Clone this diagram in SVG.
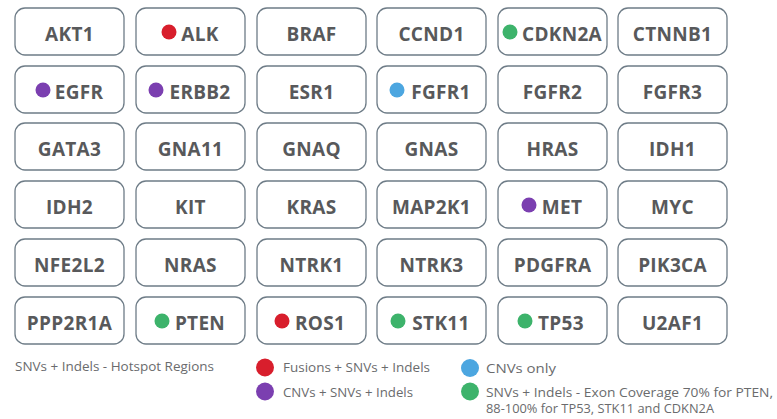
<svg xmlns="http://www.w3.org/2000/svg" width="777" height="419" viewBox="0 0 777 419">
<style>
.box{fill:#ffffff;stroke:#6e7c87;stroke-width:1.3}
.lbl{font-family:"Open Sans","Liberation Sans",sans-serif;font-weight:700;font-size:19px;fill:#58595b;text-anchor:middle;letter-spacing:0.3px}
.leg{font-family:"Open Sans","Liberation Sans",sans-serif;font-size:13.5px;fill:#6a6b6d}
.red{fill:#d81e2c}.pur{fill:#7b3fb0}.blu{fill:#4ca6e0}.grn{fill:#3db36b}
</style>
<rect width="777" height="419" fill="#ffffff"/>
<g id="connectors"/>
<!-- Row 1 -->
<g id="AKT1"><rect class="box" x="15" y="8" width="109" height="47" rx="10"/><text class="lbl" x="69.5" y="41">AKT1</text></g>
<g id="ALK"><rect class="box" x="136" y="8" width="109" height="47" rx="10"/><circle class="red" cx="169" cy="32" r="7.5"/><text class="lbl" x="200" y="41">ALK</text></g>
<g id="BRAF"><rect class="box" x="257" y="8" width="109" height="47" rx="10"/><text class="lbl" x="311.5" y="41">BRAF</text></g>
<g id="CCND1"><rect class="box" x="377" y="8" width="109" height="47" rx="10"/><text class="lbl" x="431.5" y="41">CCND1</text></g>
<g id="CDKN2A"><rect class="box" x="498" y="8" width="109" height="47" rx="10"/><circle class="grn" cx="510" cy="32" r="7.5"/><text class="lbl" x="562" y="41">CDKN2A</text></g>
<g id="CTNNB1"><rect class="box" x="618" y="8" width="109" height="47" rx="10"/><text class="lbl" x="672.5" y="41">CTNNB1</text></g>
<!-- Row 2 -->
<g id="EGFR"><rect class="box" x="15" y="66" width="109" height="47" rx="10"/><circle class="pur" cx="43" cy="90" r="7.5"/><text class="lbl" x="79" y="99">EGFR</text></g>
<g id="ERBB2"><rect class="box" x="136" y="66" width="109" height="47" rx="10"/><circle class="pur" cx="156" cy="90" r="7.5"/><text class="lbl" x="200" y="99">ERBB2</text></g>
<g id="ESR1"><rect class="box" x="257" y="66" width="109" height="47" rx="10"/><text class="lbl" x="311.5" y="99">ESR1</text></g>
<g id="FGFR1"><rect class="box" x="377" y="66" width="109" height="47" rx="10"/><circle class="blu" cx="397" cy="90" r="7.5"/><text class="lbl" x="441" y="99">FGFR1</text></g>
<g id="FGFR2"><rect class="box" x="498" y="66" width="109" height="47" rx="10"/><text class="lbl" x="552.5" y="99">FGFR2</text></g>
<g id="FGFR3"><rect class="box" x="618" y="66" width="109" height="47" rx="10"/><text class="lbl" x="672.5" y="99">FGFR3</text></g>
<!-- Row 3 -->
<g id="GATA3"><rect class="box" x="15" y="123" width="109" height="47" rx="10"/><text class="lbl" x="69.5" y="156">GATA3</text></g>
<g id="GNA11"><rect class="box" x="136" y="123" width="109" height="47" rx="10"/><text class="lbl" x="190.5" y="156">GNA11</text></g>
<g id="GNAQ"><rect class="box" x="257" y="123" width="109" height="47" rx="10"/><text class="lbl" x="311.5" y="156">GNAQ</text></g>
<g id="GNAS"><rect class="box" x="377" y="123" width="109" height="47" rx="10"/><text class="lbl" x="431.5" y="156">GNAS</text></g>
<g id="HRAS"><rect class="box" x="498" y="123" width="109" height="47" rx="10"/><text class="lbl" x="552.5" y="156">HRAS</text></g>
<g id="IDH1"><rect class="box" x="618" y="123" width="109" height="47" rx="10"/><text class="lbl" x="672.5" y="156">IDH1</text></g>
<!-- Row 4 -->
<g id="IDH2"><rect class="box" x="15" y="181" width="109" height="47" rx="10"/><text class="lbl" x="69.5" y="214">IDH2</text></g>
<g id="KIT"><rect class="box" x="136" y="181" width="109" height="47" rx="10"/><text class="lbl" x="190.5" y="214">KIT</text></g>
<g id="KRAS"><rect class="box" x="257" y="181" width="109" height="47" rx="10"/><text class="lbl" x="311.5" y="214">KRAS</text></g>
<g id="MAP2K1"><rect class="box" x="377" y="181" width="109" height="47" rx="10"/><text class="lbl" x="431.5" y="214">MAP2K1</text></g>
<g id="MET"><rect class="box" x="498" y="181" width="109" height="47" rx="10"/><circle class="pur" cx="529" cy="205" r="7.5"/><text class="lbl" x="562" y="214">MET</text></g>
<g id="MYC"><rect class="box" x="618" y="181" width="109" height="47" rx="10"/><text class="lbl" x="672.5" y="214">MYC</text></g>
<!-- Row 5 -->
<g id="NFE2L2"><rect class="box" x="15" y="239" width="109" height="47" rx="10"/><text class="lbl" x="69.5" y="272">NFE2L2</text></g>
<g id="NRAS"><rect class="box" x="136" y="239" width="109" height="47" rx="10"/><text class="lbl" x="190.5" y="272">NRAS</text></g>
<g id="NTRK1"><rect class="box" x="257" y="239" width="109" height="47" rx="10"/><text class="lbl" x="311.5" y="272">NTRK1</text></g>
<g id="NTRK3"><rect class="box" x="377" y="239" width="109" height="47" rx="10"/><text class="lbl" x="431.5" y="272">NTRK3</text></g>
<g id="PDGFRA"><rect class="box" x="498" y="239" width="109" height="47" rx="10"/><text class="lbl" x="552.5" y="272">PDGFRA</text></g>
<g id="PIK3CA"><rect class="box" x="618" y="239" width="109" height="47" rx="10"/><text class="lbl" x="672.5" y="272">PIK3CA</text></g>
<!-- Row 6 -->
<g id="PPP2R1A"><rect class="box" x="15" y="297" width="109" height="47" rx="10"/><text class="lbl" x="69.5" y="330">PPP2R1A</text></g>
<g id="PTEN"><rect class="box" x="136" y="297" width="109" height="47" rx="10"/><circle class="grn" cx="162" cy="321" r="7.5"/><text class="lbl" x="200" y="330">PTEN</text></g>
<g id="ROS1"><rect class="box" x="257" y="297" width="109" height="47" rx="10"/><circle class="red" cx="282" cy="321" r="7.5"/><text class="lbl" x="320" y="330">ROS1</text></g>
<g id="STK11"><rect class="box" x="377" y="297" width="109" height="47" rx="10"/><circle class="grn" cx="398" cy="321" r="7.5"/><text class="lbl" x="441" y="330">STK11</text></g>
<g id="TP53"><rect class="box" x="498" y="297" width="109" height="47" rx="10"/><circle class="grn" cx="525" cy="321" r="7.5"/><text class="lbl" x="561" y="330">TP53</text></g>
<g id="U2AF1"><rect class="box" x="618" y="297" width="109" height="47" rx="10"/><text class="lbl" x="672.5" y="330">U2AF1</text></g>
<!-- Legend -->
<g id="legend">
<text class="leg" x="15" y="371" textLength="199" lengthAdjust="spacingAndGlyphs">SNVs + Indels - Hotspot Regions</text>
<circle class="red" cx="265" cy="367.5" r="9"/>
<text class="leg" x="283" y="372" textLength="147" lengthAdjust="spacingAndGlyphs">Fusions + SNVs + Indels</text>
<circle class="pur" cx="265" cy="391.5" r="9"/>
<text class="leg" x="283" y="396.5" textLength="130" lengthAdjust="spacingAndGlyphs">CNVs + SNVs + Indels</text>
<circle class="blu" cx="470" cy="368" r="9"/>
<text class="leg" x="486" y="372.5" textLength="70" lengthAdjust="spacingAndGlyphs">CNVs only</text>
<circle class="grn" cx="470" cy="391.5" r="9"/>
<text class="leg" x="486" y="396.5" textLength="287" lengthAdjust="spacingAndGlyphs">SNVs + Indels - Exon Coverage 70% for PTEN,</text>
<text class="leg" x="486" y="413" textLength="228" lengthAdjust="spacingAndGlyphs">88-100% for TP53, STK11 and CDKN2A</text>
</g>
</svg>
